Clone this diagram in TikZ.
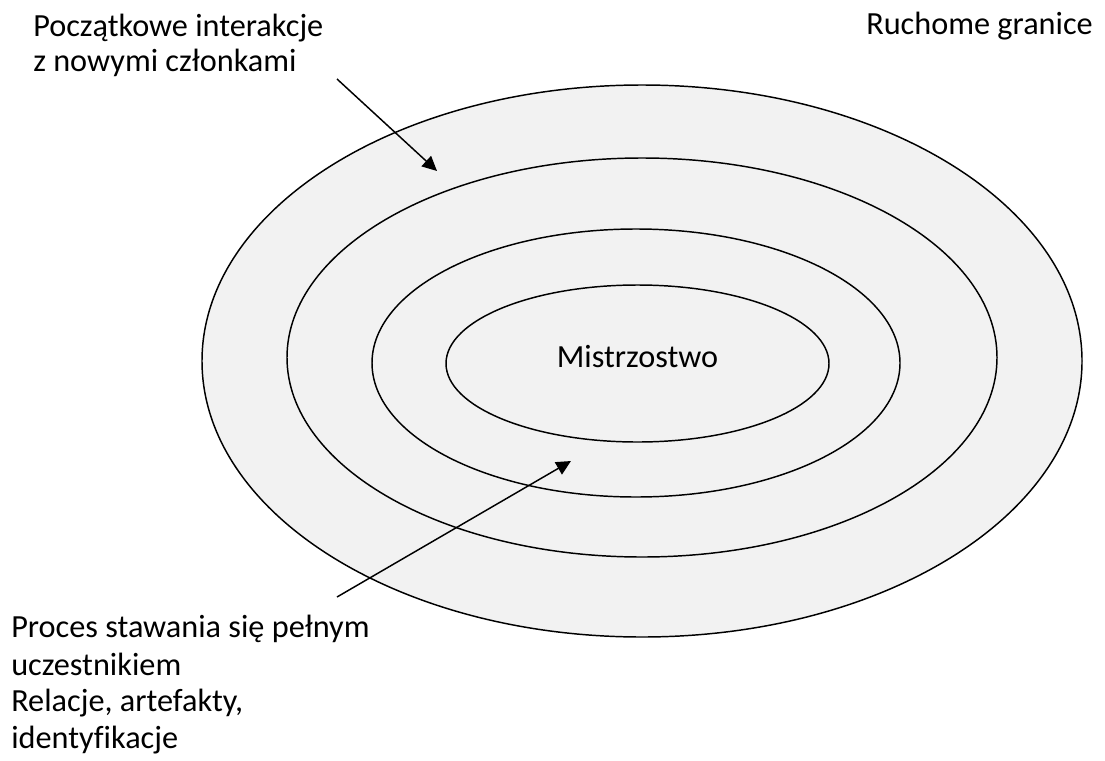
\documentclass[tikz,border=0pt]{standalone}
\usepackage{fontspec}
\setmainfont[Ligatures=CommonOff]{Carlito}
\usetikzlibrary{arrows.meta,shapes.geometric}
\definecolor{ringfill}{HTML}{F2F2F2}
\tikzset{
  ring/.style={ellipse,draw=black,fill=ringfill,line width=1.1pt,inner sep=0pt},
  lbl/.style={anchor=base west,inner sep=0pt,font=\fontsize{24.2}{29}\selectfont},
  pointer/.style={draw=black,line width=1.1pt,-{Triangle[length=11pt,width=10.5pt]}}
}
\begin{document}
\begin{tikzpicture}[x=0.75pt,y=-0.75pt]
\useasboundingbox (0,0) rectangle (1105,760);
\node[ring,minimum width=660pt,minimum height=414pt] (r1) at (642,361) {};
\node[ring,minimum width=532.5pt,minimum height=299.25pt] (r2) at (642,357.5) {};
\node[ring,minimum width=396pt,minimum height=201pt] (r3) at (636,363) {};
\node[ring,minimum width=287.25pt,minimum height=117.75pt] (r4) at (637.5,363.5) {};
\node[lbl,anchor=base] (core) at (637.5,367) {Mistrzostwo};
\node[lbl] (t1) at (33,36.7) {Początkowe interakcje};
\node[lbl] (t2) at (33,71) {z nowymi członkami};
\node[lbl,anchor=base east] (t3) at (1093,34) {Ruchome granice};
\node[lbl] (b1) at (11,637.3) {Proces stawania się pełnym};
\node[lbl] (b2) at (11,675) {uczestnikiem};
\node[lbl] (b3) at (11,711.7) {Relacje, artefakty,};
\node[lbl] (b4) at (11,748) {identyfikacje};
\coordinate (a1s) at (337,79);
\coordinate (a1e) at (437,171);
\coordinate (a2s) at (337,597);
\coordinate (a2e) at (571,461);
\draw[pointer] (a1s) -- (a1e);
\draw[pointer] (a2s) -- (a2e);
\end{tikzpicture}
\end{document}
